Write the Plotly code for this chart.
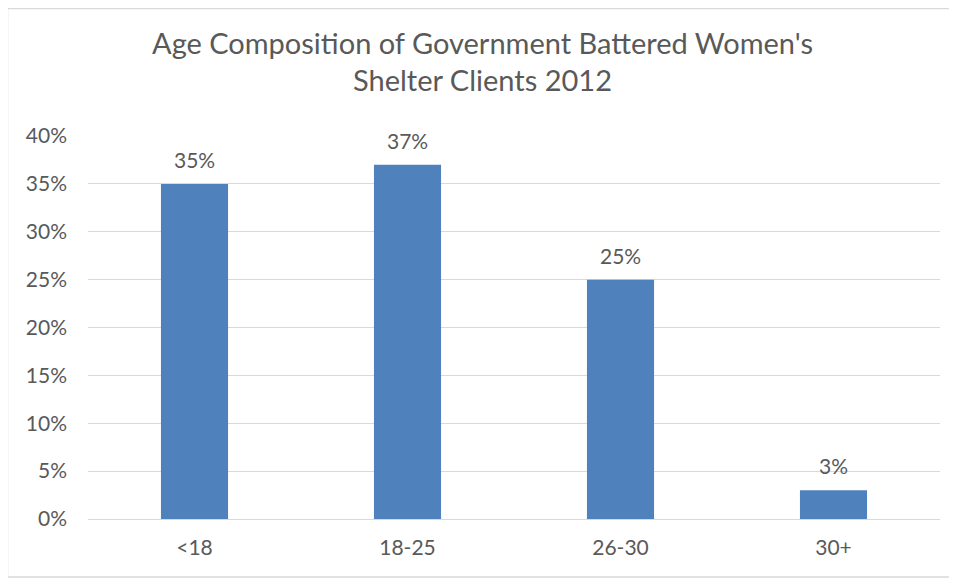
import plotly.graph_objects as go

age_groups = ["<18", "18-25", "26-30", "30+"]
share_pct = [35, 37, 25, 3]
y_ticks = [0, 5, 10, 15, 20, 25, 30, 35, 40]
y_tick_labels = [f"{v}%" for v in y_ticks]

text_color = "#595959"
bar_color = "#4F81BD"

fig = go.Figure(
    go.Bar(
        x=age_groups,
        y=share_pct,
        marker_color=bar_color,
        marker_line_width=0,
        cliponaxis=False,
    )
)

# value labels sit a bit higher above the bars than plotly's "outside" text
for cat, val in zip(age_groups, share_pct):
    fig.add_annotation(
        x=cat, y=val, text=f"{val}%",
        showarrow=False, yanchor="bottom", yshift=10,
        font=dict(size=21, color=text_color),
    )

# page puts the figure at (8, 8), so size and margins account for that
fig.update_layout(
    width=949,
    height=571,
    margin=dict(l=80, r=17, t=128, b=60),
    paper_bgcolor="white",
    plot_bgcolor="white",
    font=dict(family="Lato, 'Open Sans', sans-serif", color=text_color),
    title=dict(
        text="Age Composition of Government Battered Women's<br>Shelter Clients 2012",
        x=0.5,
        xanchor="center",
        y=0.92,
        yanchor="top",
        font=dict(size=29, color=text_color),
    ),
    bargap=0.685,
    showlegend=False,
)

fig.update_yaxes(
    range=[0, 40],
    tickvals=y_ticks,
    ticktext=y_tick_labels,
    showgrid=True,
    gridcolor="#D9D9D9",
    gridwidth=1,
    zeroline=True,
    zerolinecolor="#D9D9D9",
    zerolinewidth=1,
    tickfont=dict(size=21, color=text_color),
    ticks="",
    ticklabelstandoff=20,
)

fig.update_xaxes(
    showgrid=False,
    showline=False,
    tickfont=dict(size=21, color=text_color),
    ticks="",
    ticklabelstandoff=14,
)

# light frame around the whole chart
fig.add_shape(
    type="rect",
    xref="paper", yref="paper",
    x0=-80.5 / 852, x1=1 + 16 / 852,
    y0=-58 / 383, y1=1 + 127.5 / 383,
    line=dict(color="#D9D9D9", width=1.5),
    layer="below",
)

fig.write_html("out.html")
